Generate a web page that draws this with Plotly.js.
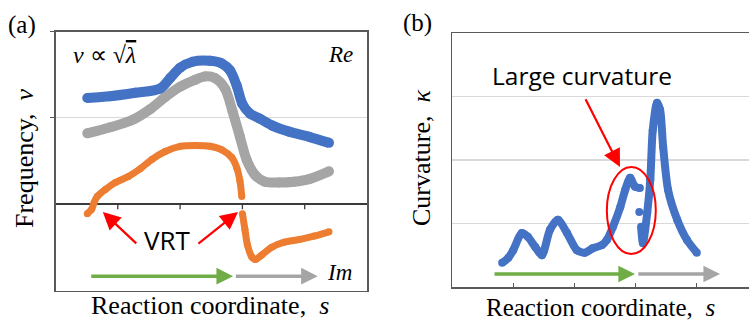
<!DOCTYPE html>
<html>
<head>
<meta charset="utf-8">
<script src="https://cdn.plot.ly/plotly-3.0.1.min.js"></script>
<style>
html,body{margin:0;padding:0;overflow:hidden;background:#fff;}
</style>
</head>
<body>
<div id="chart" style="width:760px;height:322px"></div>
<script>
// ---- Panel (a): frequency vs reaction coordinate ----
const freqBlueS = [0.51,0.88,1.28,1.68,1.84,2.00,2.20,2.48,2.67,2.80,2.91,3.00,3.12,3.28,3.48,3.75,4.07,4.39];
const freqBlue  = [1.23,1.25,1.29,1.34,1.46,1.58,1.65,1.66,1.63,1.55,1.37,1.16,1.05,0.99,0.91,0.84,0.78,0.71];

const freqGrayS = [0.51,0.88,1.25,1.52,1.76,2.00,2.24,2.40,2.56,2.72,2.84,2.96,3.07,3.20,3.36,3.59,3.83,4.07,4.39];
const freqGray  = [0.82,0.89,0.98,1.10,1.24,1.36,1.44,1.48,1.46,1.34,1.08,0.78,0.51,0.34,0.26,0.25,0.26,0.29,0.38];

const freqOrangeS = [0.51,0.58,0.62,0.67,0.80,0.96,1.17,1.36,1.55,1.76,2.00,2.24,2.48,2.67,2.83,2.91,2.96,2.99,
                     null,
                     3.00,3.04,3.08,3.15,3.21,3.31,3.47,3.67,3.91,4.15,4.39];
const freqOrange  = [-0.11,-0.06,0.02,0.09,0.17,0.25,0.32,0.41,0.52,0.61,0.67,0.68,0.67,0.63,0.54,0.42,0.27,0.09,
                     null,
                     -0.11,-0.29,-0.47,-0.61,-0.64,-0.59,-0.50,-0.44,-0.41,-0.37,-0.32];

// ---- Panel (b): curvature vs reaction coordinate ----
const curvS = [0.82,0.92,1.00,1.14,1.24,1.36,1.47,1.60,1.73,1.88,2.04,2.17,2.30,2.45,2.53,2.63,2.75,2.83,2.91,2.99,3.07,
               null, 3.06, null,
               3.09,3.12,3.19,3.24,3.28,3.35,3.40,3.45,3.53,3.68,3.84,4.00];
const curv  = [0.38,0.46,0.58,0.85,0.79,0.63,0.50,0.90,1.06,0.85,0.58,0.54,0.61,0.66,0.74,0.95,1.26,1.53,1.72,1.58,1.56,
               null, 1.18, null,
               0.95,0.69,1.17,1.69,2.47,2.90,2.79,2.21,1.53,1.06,0.74,0.54];

const xTicks = [1,2,3,4];

const W = 760, H = 322;
const px = v => v / W;
const py = v => 1 - v / H;

const BLUE = '#4472c4', GRAY = '#a5a5a5', ORANGE = '#ed7d31', GREEN = '#70ad47', RED = '#ff0000';
const FRAME = '#595959';
const SERIF = 'Liberation Serif, Times New Roman, serif';
const SANS = 'Open Sans, sans-serif';

const traces = [
  {x: freqGrayS, y: freqGray, xaxis:'x', yaxis:'y', mode:'lines+markers', line:{color:GRAY, width:10, shape:'spline', smoothing:0.8}, marker:{color:GRAY, size:10}, hoverinfo:'skip'},
  {x: freqBlueS, y: freqBlue, xaxis:'x', yaxis:'y', mode:'lines+markers', line:{color:BLUE, width:10, shape:'spline', smoothing:0.8}, marker:{color:BLUE, size:10}, hoverinfo:'skip'},
  {x: freqOrangeS, y: freqOrange, xaxis:'x', yaxis:'y', mode:'lines+markers', connectgaps:false, line:{color:ORANGE, width:7, shape:'spline', smoothing:0.8}, marker:{color:ORANGE, size:7}, hoverinfo:'skip'},
  {x: curvS, y: curv, xaxis:'x2', yaxis:'y2', mode:'lines+markers', connectgaps:false, line:{color:BLUE, width:8, shape:'spline', smoothing:0.7}, marker:{color:BLUE, size:8}, hoverinfo:'skip'}
];

const xDomA = [px(55.5), px(367)];
const yDomA = [py(290.5), py(31.5)];
const yRangeA = [-1, 2];

function arrow(xref, yref, x, y, ax, ay, color, width, size){
  return {xref, yref, axref:xref, ayref:yref, x, y, ax, ay, text:'', showarrow:true,
          arrowhead:2, arrowcolor:color, arrowwidth:width, arrowsize:size, standoff:0, startstandoff:0};
}
function label(x, y, text, size, family, extra){
  return Object.assign({xref:'paper', yref:'paper', x:px(x), y:py(y), text, showarrow:false,
          xanchor:'center', yanchor:'middle', font:{family, size, color:'#000'}}, extra||{});
}

const annotations = [
  // panel (a)
  label(22, 25, '(a)', 25, SERIF),
  label(25, 158, 'Frequency,\u00a0\u00a0<i>ν</i>', 26, SERIF, {textangle:-90}),
  label(210, 305, 'Reaction coordinate,\u00a0\u00a0<i>s</i>', 26, SERIF),
  label(104, 55, '<i>ν</i>\u00a0∝ √<span style="text-decoration:overline"><i>λ</i></span>', 24, SERIF),
  label(340, 55, '<i>Re</i>', 23, SERIF),
  label(339, 272, '<i>Im</i>', 23, SERIF),
  label(167, 240, 'VRT', 26, SANS),
  arrow('x','y', 0.76, -0.09, 1.32, -0.47, RED, 2.2, 1.6),
  arrow('x','y', 2.93, -0.09, 2.27, -0.47, RED, 2.2, 1.6),
  arrow('x','y', 2.85, -0.834, 0.55, -0.834, GREEN, 3.5, 0.95),
  arrow('x','y', 4.21, -0.834, 2.87, -0.834, GRAY, 3.5, 0.95),
  // panel (b)
  label(417, 23, '(b)', 25, SERIF),
  label(422, 158, 'Curvature,\u00a0\u00a0<i>κ</i>', 26, SERIF, {textangle:-90}),
  label(600, 307, 'Reaction coordinate,\u00a0\u00a0<i>s</i>', 25, SERIF),
  label(582, 75, 'Large curvature', 24.5, SANS),
  arrow('x2','y2', 2.745, 1.89, 2.17, 2.98, RED, 2.2, 1.6),
  arrow('x2','y2', 2.99, 0.205, 0.67, 0.205, GREEN, 3.5, 0.95),
  arrow('x2','y2', 4.38, 0.205, 3.02, 0.205, GRAY, 3.5, 0.95)
];

// tick marks on the zero line of panel (a), at the axis tick values
const zeroTicks = xTicks.map(t => ({
  type:'line', xref:'x', yref:'y', ysizemode:'pixel', yanchor:0,
  x0:t, x1:t, y0:0, y1:-5, line:{color:'#3a3a3a', width:1.3}
}));

const layout = {
  width: W, height: H,
  margin: {l:0, r:0, t:0, b:0},
  paper_bgcolor: '#fff', plot_bgcolor: '#fff',
  showlegend: false,
  xaxis: {domain:xDomA, range:[0,5], anchor:'y', showline:true, mirror:true, linecolor:FRAME, linewidth:1.5,
          ticks:'', showticklabels:false, showgrid:false, zeroline:false, fixedrange:true},
  yaxis: {domain:yDomA, range:yRangeA, anchor:'x', showline:true, mirror:true, linecolor:FRAME, linewidth:1.5,
          tickvals:[1,2], ticks:'outside', ticklen:4, tickcolor:FRAME, showticklabels:false,
          showgrid:true, gridcolor:'#d9d9d9', gridwidth:1.2, zeroline:true, zerolinecolor:'#3a3a3a', zerolinewidth:1.6, fixedrange:true},
  xaxis2: {domain:[px(452), px(758)], range:[0,5], anchor:'y2', showline:true, mirror:true, linecolor:FRAME, linewidth:1.5,
           tickvals:xTicks, ticks:'inside', ticklen:4, tickcolor:FRAME, tickwidth:1.3, showticklabels:false, showgrid:false, zeroline:false, fixedrange:true},
  yaxis2: {domain:[py(287), py(33)], range:[0,4], anchor:'x2', showline:true, mirror:true, linecolor:FRAME, linewidth:1.5,
           tickvals:[1,2,3], ticks:'', showticklabels:false, showgrid:true, gridcolor:'#d9d9d9', gridwidth:1.5, zeroline:false, fixedrange:true},
  shapes: zeroTicks.concat([
    {type:'circle', xref:'x2', yref:'y2', x0:2.53, x1:3.33, y0:0.52, y1:1.89, line:{color:RED, width:2}}
  ]),
  annotations
};

Plotly.newPlot('chart', traces, layout, {staticPlot:true, displayModeBar:false});
</script>
</body>
</html>
